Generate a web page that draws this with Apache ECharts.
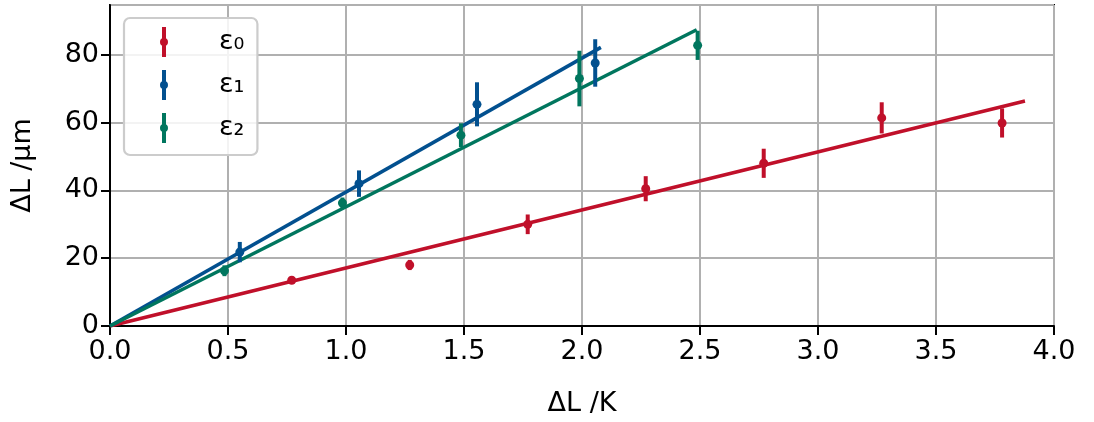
<!DOCTYPE html>
<html>
<head>
<meta charset="utf-8">
<script src="https://cdn.jsdelivr.net/npm/echarts@6/dist/echarts.min.js"></script>
<style>
  html, body { margin: 0; padding: 0; background: #fff; }
  #chart { width: 1094px; height: 422px; }
</style>
</head>
<body>
<div id="chart"></div>
<script>
// Measured temperature steps (K), elongations (µm) and their uncertainties
const eps0X   = [0.77, 1.27, 1.77, 2.27, 2.77, 3.27, 3.78];
const eps0Y   = [13.5, 18.0, 30.0, 40.5, 48.0, 61.4, 59.9];
const eps0Err = [1.0, 1.5, 2.9, 3.7, 4.3, 4.6, 4.3];

const eps1X   = [0.55, 1.055, 1.555, 2.056];
const eps1Y   = [21.8, 42.0, 65.4, 77.6];
const eps1Err = [3.0, 3.9, 6.5, 7.0];

const eps2X   = [0.485, 0.985, 1.487, 1.989, 2.49];
const eps2Y   = [16.3, 36.3, 56.3, 73.0, 82.8];
const eps2Err = [1.6, 1.6, 3.5, 8.2, 4.3];

// Linear fits through the origin: [end x, end y]
const eps0Fit = [3.877, 66.4];
const eps1Fit = [2.08, 82.2];
const eps2Fit = [2.486, 87.4];

const seriesNames = ['ε₀', 'ε₁', 'ε₂'];
const colors = ['#c0102a', '#02508f', '#00765e'];

const xTicks = { min: 0, max: 4, interval: 0.5 };
const yTicks = { min: 0, max: 94.7, interval: 20 };

const FONT = 'DejaVu Sans';
const FS = 27;

// legend glyph: vertical error bar with a round marker
const legendIcon = 'path://M4,0H8V30H4Z M6,11 A4,4 0 1 1 5.99,11 Z';

function errorBarSeries(name, xs, ys, errs, color) {
  return {
    type: 'custom',
    name: name + ' err',
    z: 3,
    data: xs.map((x, i) => [x, ys[i] - errs[i], ys[i] + errs[i]]),
    encode: { x: 0, y: [1, 2] },
    renderItem: function (params, api) {
      const lo = api.coord([api.value(0), api.value(1)]);
      const hi = api.coord([api.value(0), api.value(2)]);
      return {
        type: 'line',
        shape: { x1: lo[0], y1: lo[1], x2: hi[0], y2: hi[1] },
        style: { stroke: color, lineWidth: 4 }
      };
    },
    silent: true
  };
}

function pointSeries(name, xs, ys, color) {
  return {
    type: 'scatter',
    name: name,
    z: 4,
    symbol: 'circle',
    symbolSize: 9,
    itemStyle: { color: color, opacity: 1 },
    data: xs.map((x, i) => [x, ys[i]])
  };
}

function fitSeries(name, fit, color) {
  return {
    type: 'line',
    name: name + ' fit',
    z: 2,
    showSymbol: false,
    symbol: 'none',
    lineStyle: { color: color, width: 3.6 },
    data: [[0, 0], fit],
    silent: true
  };
}

const chart = echarts.init(document.getElementById('chart'), null, { renderer: 'canvas' });

chart.setOption({
  animation: false,
  backgroundColor: '#ffffff',
  textStyle: { fontFamily: FONT },
  grid: {
    left: 110, right: 40, top: 5, bottom: 95,
    show: true, borderColor: '#000', borderWidth: 2,
    backgroundColor: 'transparent', containLabel: false
  },
  legend: {
    left: 124, top: 18,
    orient: 'vertical',
    padding: [9, 13, 12, 36],
    itemWidth: 12, itemHeight: 30, itemGap: 13,
    backgroundColor: 'rgba(255,255,255,0.85)',
    borderColor: '#cccccc', borderWidth: 2.2, borderRadius: 6,
    textStyle: { fontFamily: FONT, fontSize: FS, color: '#000', padding: [0, 0, 0, 44] },
    data: seriesNames.map(n => ({ name: n, icon: legendIcon }))
  },
  xAxis: {
    type: 'value',
    min: xTicks.min, max: xTicks.max, interval: xTicks.interval,
    name: 'ΔL /K', nameLocation: 'middle', nameGap: 64,
    nameTextStyle: { fontFamily: FONT, fontSize: FS, color: '#000' },
    axisLine: { show: true, onZero: false, lineStyle: { color: '#000', width: 2 } },
    axisTick: { show: true, inside: false, length: 9, lineStyle: { color: '#000', width: 2 } },
    axisLabel: {
      fontFamily: FONT, fontSize: FS, color: '#000', margin: 12,
      formatter: v => v.toFixed(1)
    },
    splitLine: { show: true, lineStyle: { color: '#b0b0b0', width: 2 } }
  },
  yAxis: {
    type: 'value',
    min: yTicks.min, max: yTicks.max, interval: yTicks.interval,
    name: 'ΔL /µm', nameLocation: 'middle', nameGap: 74,
    nameTextStyle: { fontFamily: FONT, fontSize: FS, color: '#000' },
    axisLine: { show: true, onZero: false, lineStyle: { color: '#000', width: 2 } },
    axisTick: { show: true, inside: false, length: 9, lineStyle: { color: '#000', width: 2 } },
    axisLabel: {
      fontFamily: FONT, fontSize: FS, color: '#000', margin: 11,
      showMaxLabel: false,
      formatter: v => (Math.abs(v % 20) < 1e-6 ? String(Math.round(v)) : '')
    },
    splitLine: { show: true, lineStyle: { color: '#b0b0b0', width: 2 } }
  },
  series: [
    errorBarSeries(seriesNames[0], eps0X, eps0Y, eps0Err, colors[0]),
    pointSeries(seriesNames[0], eps0X, eps0Y, colors[0]),
    fitSeries(seriesNames[0], eps0Fit, colors[0]),
    errorBarSeries(seriesNames[1], eps1X, eps1Y, eps1Err, colors[1]),
    pointSeries(seriesNames[1], eps1X, eps1Y, colors[1]),
    fitSeries(seriesNames[1], eps1Fit, colors[1]),
    errorBarSeries(seriesNames[2], eps2X, eps2Y, eps2Err, colors[2]),
    pointSeries(seriesNames[2], eps2X, eps2Y, colors[2]),
    fitSeries(seriesNames[2], eps2Fit, colors[2])
  ]
});
</script>
</body>
</html>
